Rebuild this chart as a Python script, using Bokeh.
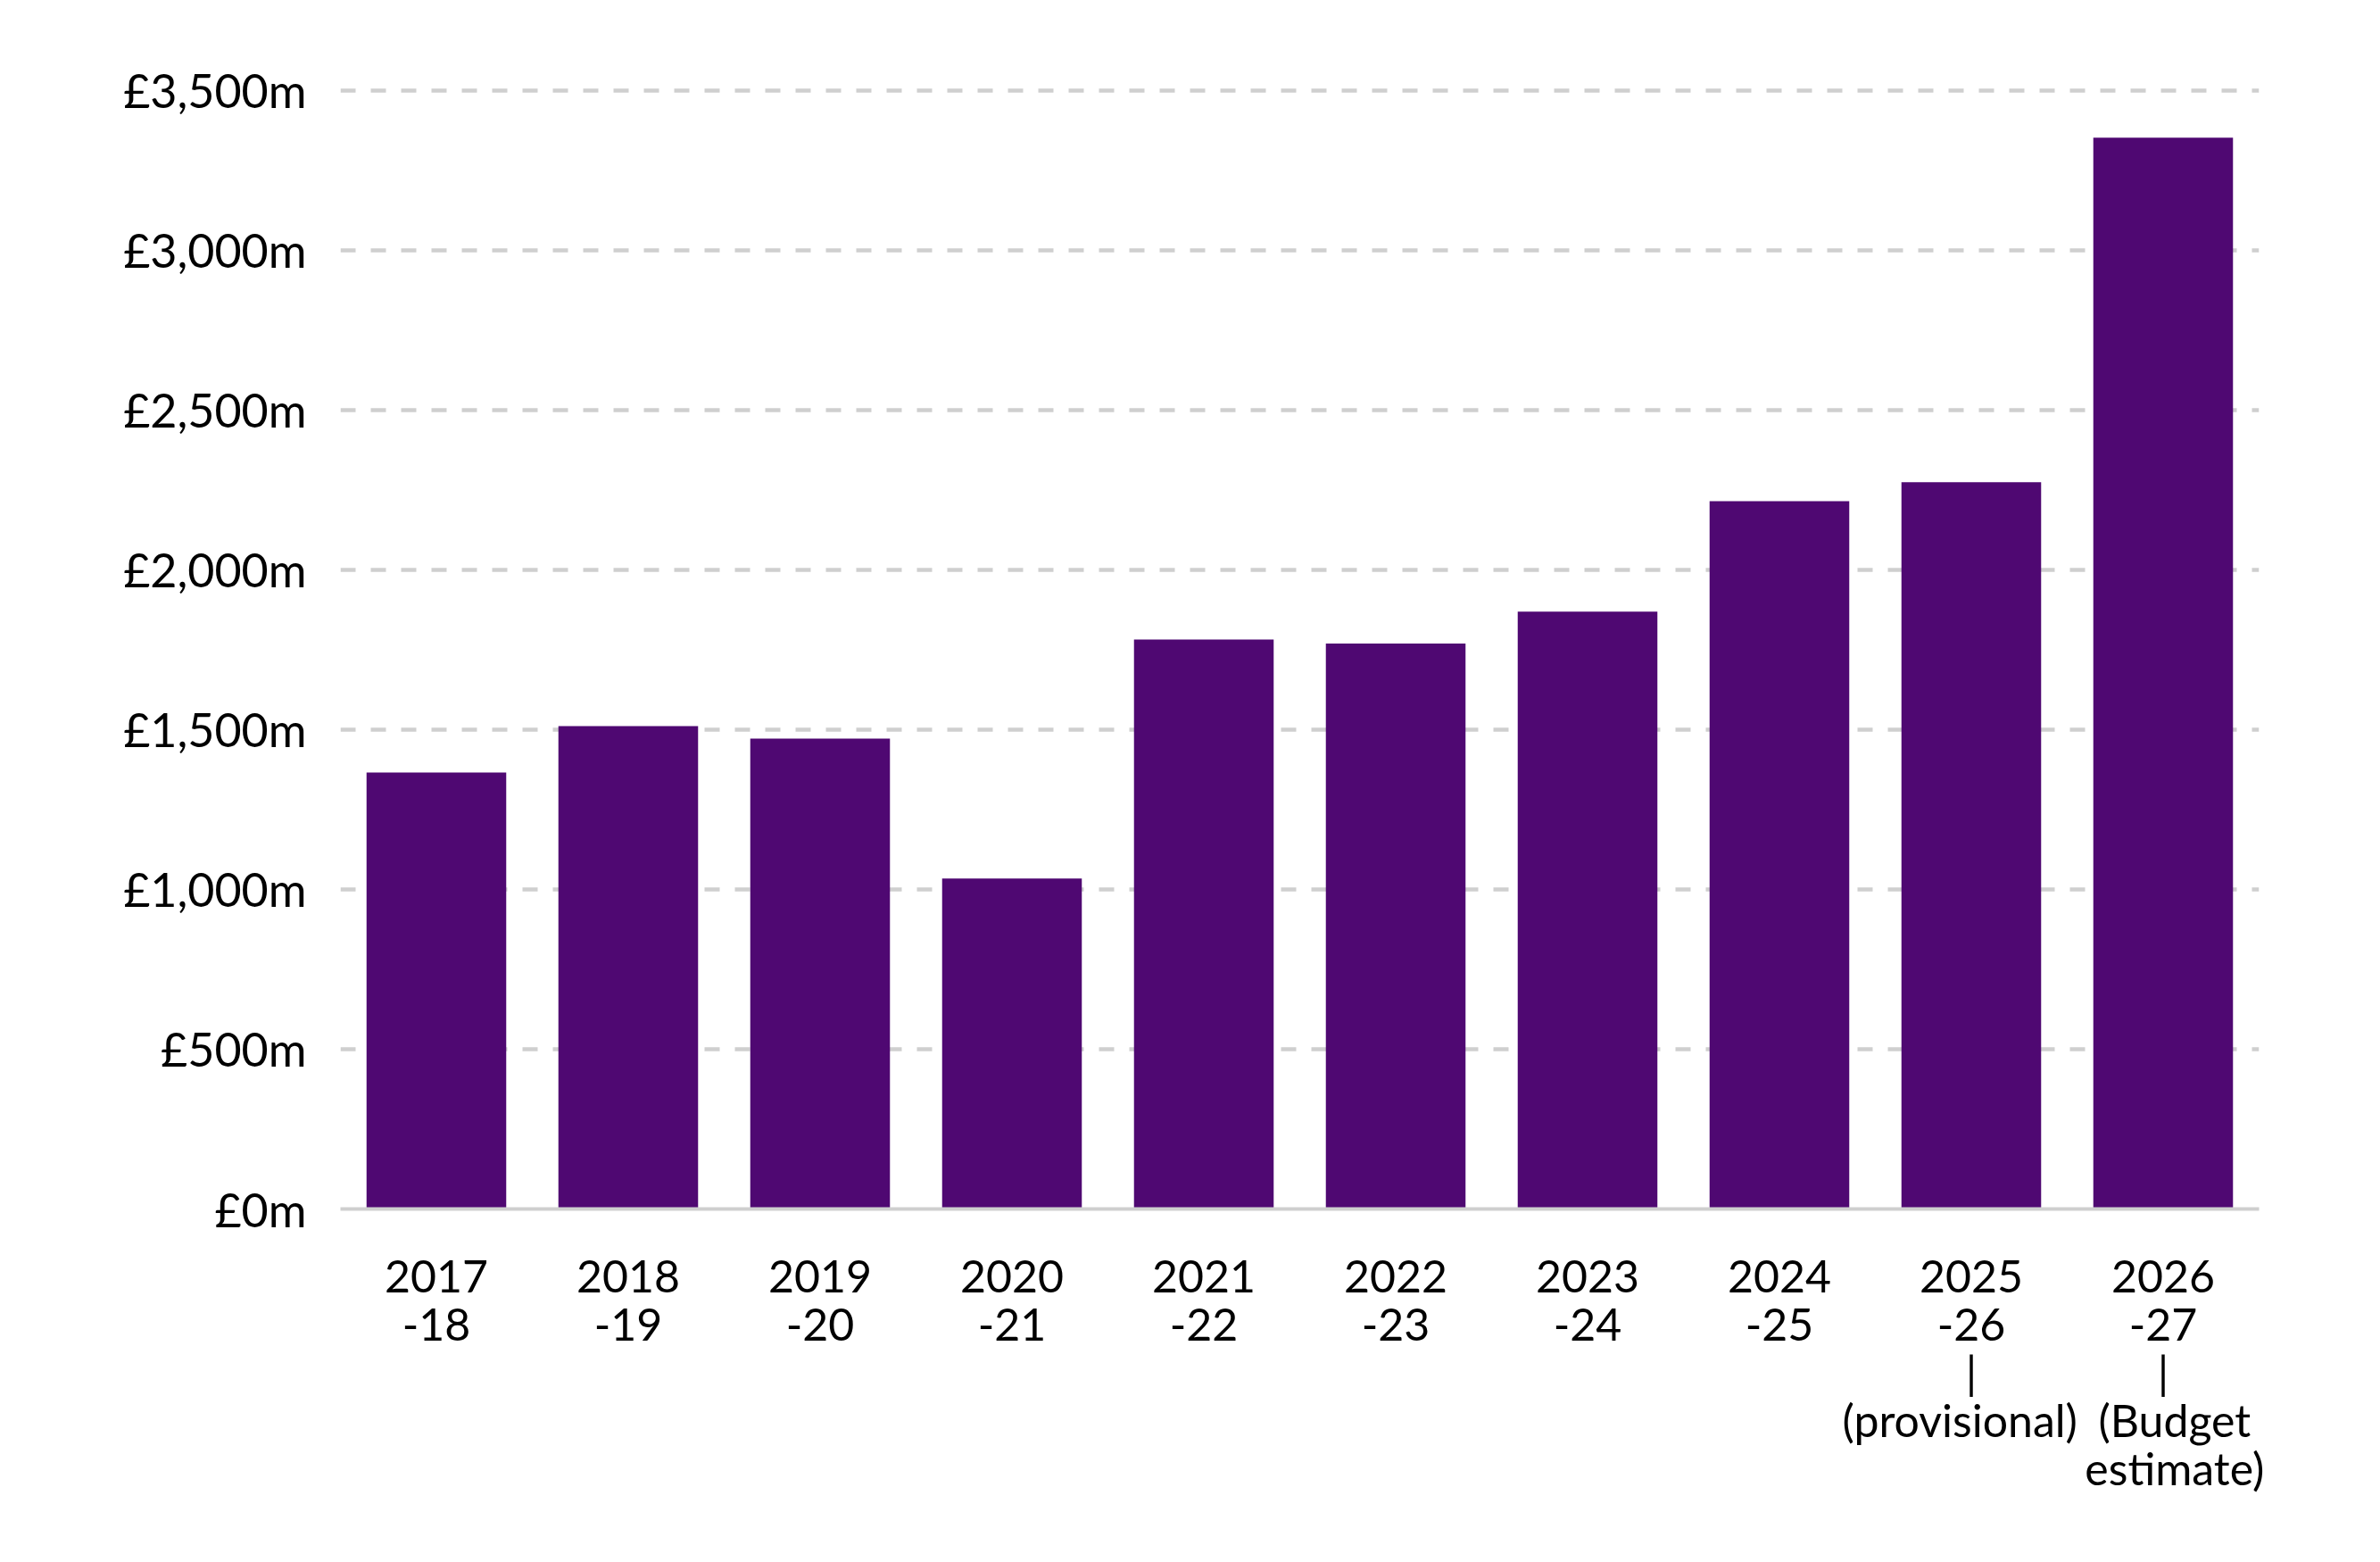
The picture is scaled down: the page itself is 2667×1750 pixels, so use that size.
from bokeh.plotting import figure
from bokeh.models import FixedTicker, Range1d
from bokeh.embed import file_html
from bokeh.resources import INLINE

# ---- data ----
years = ["2017-18", "2018-19", "2019-20", "2020-21", "2021-22",
         "2022-23", "2023-24", "2024-25", "2025-26", "2026-27"]
NB = "\u00a0"
year_labels = ["2017\n-18", "2018\n-19", "2019\n-20", "2020\n-21", "2021\n-22",
               "2022\n-23", "2023\n-24", "2024\n-25",
               "2025\n-26\n|\n(provisional)" + NB + NB,
               "2026\n-27\n|\n" + NB + NB + "(Budget\n" + NB + NB + "estimate)"]
spend = [1366, 1511, 1472, 1034, 1782, 1769, 1869, 2215, 2274, 3352]
y_ticks = [0, 500, 1000, 1500, 2000, 2500, 3000, 3500]
y_tick_labels = ["£0m", "£500m", "£1,000m", "£1,500m", "£2,000m",
                 "£2,500m", "£3,000m", "£3,500m"]

FONT = "Lato"
BAR = "#4F0872"
GRID = "#cfcfcf"

p = figure(x_range=year_labels, y_range=Range1d(0, 3600),
           width=2650, height=1733,
           output_backend="svg", toolbar_location=None,
           min_border_left=381, min_border_right=119,
           min_border_top=65, min_border_bottom=379)

p.vbar(x=year_labels, top=spend, width=0.728, color=BAR, line_color=None)

p.outline_line_color = None
p.background_fill_color = "white"
p.border_fill_color = "white"

# x axis
xa = p.xaxis[0]
xa.axis_line_color = GRID
xa.axis_line_width = 4
xa.major_tick_line_color = None
xa.minor_tick_line_color = None
xa.major_label_standoff = 38
xa.major_label_text_font = FONT
xa.major_label_text_font_size = "50px"
xa.major_label_text_color = "#000000"
xa.major_label_text_line_height = 0.9
p.xgrid.grid_line_color = None

# y axis
ya = p.yaxis[0]
ya.ticker = FixedTicker(ticks=y_ticks)
ya.major_label_overrides = {t: l for t, l in zip(y_ticks, y_tick_labels)}
ya.axis_line_color = None
ya.major_tick_line_color = None
ya.minor_tick_line_color = None
ya.major_label_standoff = 32
ya.major_label_text_font = FONT
ya.major_label_text_font_size = "52px"
ya.major_label_text_color = "#000000"
p.ygrid.ticker = FixedTicker(ticks=y_ticks[1:])
p.ygrid.grid_line_color = GRID
p.ygrid.grid_line_width = 4.5
p.ygrid.grid_line_dash = "17 17"

open("out.html", "w").write(file_html(p, INLINE))
